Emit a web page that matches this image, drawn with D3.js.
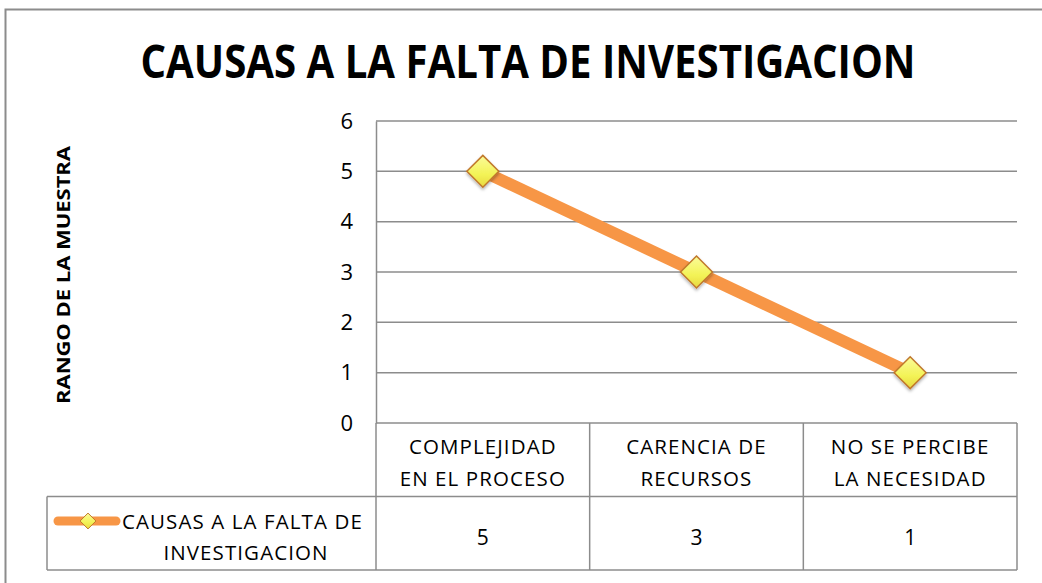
<!DOCTYPE html>
<meta charset="utf-8">
<title>Causas</title>
<script src="https://d3js.org/d3.v7.min.js"></script>
<style>
  body { margin: 0; background: #fff; }
  text { font-family: "Open Sans", "Liberation Sans", sans-serif; fill: #000; }
</style>
<body>
<div id="chart"></div>
<script>
  // data
  var categories = [["COMPLEJIDAD", "EN EL PROCESO"], ["CARENCIA DE", "RECURSOS"], ["NO SE PERCIBE", "LA NECESIDAD"]];
  var values = [5, 3, 1];
  var yTicks = [0, 1, 2, 3, 4, 5, 6];
  var seriesName = ["CAUSAS A LA FALTA DE", "INVESTIGACION"];
  var title = "CAUSAS A LA FALTA DE INVESTIGACION";
  var yLabel = "RANGO DE LA MUESTRA";

  var W = 1042, H = 583;
  var plot = {left: 376, right: 1017, top: 121, bottom: 423};
  var rowH = 73.5;

  var svg = d3.select("#chart").append("svg")
    .attr("width", W).attr("height", H);

  // gradient for markers
  var defs = svg.append("defs");
  var grad = defs.append("linearGradient").attr("id", "mk")
    .attr("x1", 0).attr("y1", 0).attr("x2", 0).attr("y2", 1);
  grad.append("stop").attr("offset", "0%").attr("stop-color", "#fbfb9a");
  grad.append("stop").attr("offset", "60%").attr("stop-color", "#f3f356");
  grad.append("stop").attr("offset", "100%").attr("stop-color", "#e8d840");
  var sh = defs.append("filter").attr("id", "shadow").attr("x", "-50%").attr("y", "-50%").attr("width", "200%").attr("height", "200%");
  sh.append("feDropShadow").attr("dx", 0).attr("dy", 2).attr("stdDeviation", 1.5).attr("flood-color", "#000").attr("flood-opacity", 0.3);

  // outer chart border
  svg.append("rect")
    .attr("x", 5.5).attr("y", 9.5).attr("width", W + 10).attr("height", H + 10)
    .attr("fill", "none").attr("stroke", "#8c8c8c").attr("stroke-width", 2);

  // title
  svg.append("text")
    .attr("x", 528).attr("y", 78)
    .attr("text-anchor", "middle")
    .attr("font-size", "46px").attr("font-weight", "bold")
    .attr("textLength", 775).attr("lengthAdjust", "spacingAndGlyphs")
    .text(title);

  // scales
  var x = d3.scaleBand()
    .domain(d3.range(categories.length))
    .range([plot.left, plot.right]);
  var y = d3.scaleLinear()
    .domain([0, 6])
    .range([plot.bottom, plot.top]);

  // gridlines
  svg.append("g")
    .selectAll("line")
    .data(yTicks)
    .join("line")
    .attr("x1", plot.left).attr("x2", plot.right)
    .attr("y1", d => y(d)).attr("y2", d => y(d))
    .attr("stroke", "#8c8c8c").attr("stroke-width", 1.5);

  // y axis
  var yAxis = svg.append("g")
    .attr("transform", "translate(" + plot.left + ",0)")
    .call(d3.axisLeft(y).tickValues(yTicks).tickSize(0).tickPadding(23).tickFormat(d3.format("d")));
  yAxis.select(".domain").attr("stroke", "#8c8c8c").attr("stroke-width", 1.5);
  yAxis.selectAll("text")
    .attr("font-family", "'Open Sans', sans-serif")
    .attr("font-size", "22px").attr("fill", "#000");

  // y label
  svg.append("text")
    .attr("transform", "translate(70,275) rotate(-90)")
    .attr("text-anchor", "middle")
    .attr("font-size", "17px").attr("font-weight", "bold")
    .attr("textLength", 258).attr("lengthAdjust", "spacingAndGlyphs")
    .text(yLabel);

  // data table
  var tbl = svg.append("g").attr("stroke", "#8c8c8c").attr("stroke-width", 1.5);
  var colEdges = [plot.left].concat(d3.range(categories.length).map(i => x(i) + x.bandwidth()));
  tbl.selectAll("line.v")
    .data(colEdges)
    .join("line")
    .attr("x1", d => d).attr("x2", d => d)
    .attr("y1", plot.bottom).attr("y2", plot.bottom + 2 * rowH);
  tbl.append("line")
    .attr("x1", 47).attr("x2", plot.right)
    .attr("y1", plot.bottom + rowH).attr("y2", plot.bottom + rowH);
  tbl.append("line")
    .attr("x1", 47).attr("x2", plot.right)
    .attr("y1", plot.bottom + 2 * rowH).attr("y2", plot.bottom + 2 * rowH);
  tbl.append("line")
    .attr("x1", 47).attr("x2", 47)
    .attr("y1", plot.bottom + rowH).attr("y2", plot.bottom + 2 * rowH);

  // category labels
  var cat = svg.append("g").selectAll("text")
    .data(categories)
    .join("text")
    .attr("x", (d, i) => x(i) + x.bandwidth() / 2)
    .attr("text-anchor", "middle")
    .attr("font-size", "20.5px")
    .attr("letter-spacing", "1.1px");
  cat.selectAll("tspan")
    .data(d => d)
    .join("tspan")
    .attr("x", function() { return this.parentNode.getAttribute("x"); })
    .attr("y", (d, j) => plot.bottom + 31 + j * 32)
    .text(d => d);

  // values row
  svg.append("g").selectAll("text")
    .data(values)
    .join("text")
    .attr("x", (d, i) => x(i) + x.bandwidth() / 2)
    .attr("y", plot.bottom + rowH + 48)
    .attr("text-anchor", "middle")
    .attr("font-size", "21px")
    .text(d => d);

  // series legend in table
  svg.append("line")
    .attr("x1", 58).attr("x2", 116)
    .attr("y1", 521).attr("y2", 521)
    .attr("stroke", "#f79646").attr("stroke-width", 9).attr("stroke-linecap", "round");
  svg.append("path")
    .attr("d", d3.symbol(d3.symbolDiamond2, 160)())
    .attr("transform", "translate(88,521)")
    .attr("fill", "url(#mk)").attr("stroke", "#c0782c").attr("stroke-width", 1);
  svg.append("g").selectAll("text")
    .data(seriesName)
    .join("text")
    .attr("x", (d, i) => i == 0 ? 122 : 246)
    .attr("y", (d, i) => 529 + i * 31)
    .attr("text-anchor", (d, i) => i == 0 ? "start" : "middle")
    .attr("font-size", "20.5px")
    .attr("letter-spacing", "1.1px")
    .text(d => d);

  // line
  var line = d3.line()
    .x((d, i) => x(i) + x.bandwidth() / 2)
    .y(d => y(d));
  svg.append("path")
    .datum(values)
    .attr("d", line)
    .attr("fill", "none")
    .attr("stroke", "#f79646").attr("stroke-width", 12);

  // markers
  svg.append("g").selectAll("path")
    .data(values)
    .join("path")
    .attr("d", d3.symbol(d3.symbolDiamond2, 650)())
    .attr("transform", (d, i) => "translate(" + (x(i) + x.bandwidth() / 2) + "," + y(d) + ")")
    .attr("fill", "url(#mk)")
    .attr("stroke", "#c0782c").attr("stroke-width", 1.5)
    .attr("filter", "url(#shadow)");
</script>
</body>
